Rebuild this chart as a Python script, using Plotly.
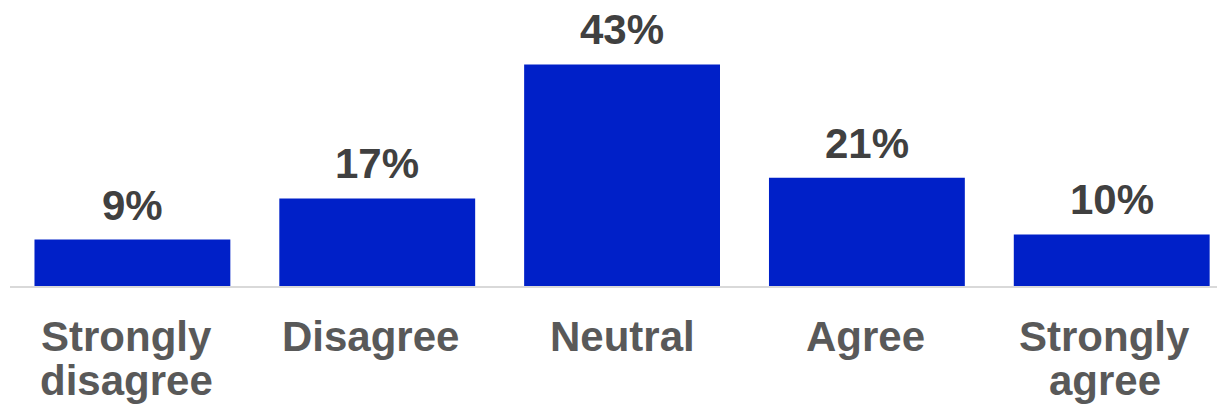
import plotly.graph_objects as go

categories = ["Strongly<br>disagree", "Disagree", "Neutral", "Agree", "Strongly<br>agree"]
values = [9, 17, 43, 21, 10]
value_labels = ["9%", "17%", "43%", "21%", "10%"]

BAR_COLOR = "#0020C8"
FONT = "Liberation Sans, Arial, sans-serif"
# small horizontal nudges of the category labels, as in the original layout
LABEL_NUDGE = {"Strongly<br>disagree": -6, "Disagree": -7, "Neutral": 0, "Agree": -1, "Strongly<br>agree": -7}

x = list(range(len(categories)))

fig = go.Figure(go.Bar(
    x=x, y=values, marker=dict(color=BAR_COLOR, line=dict(width=0)),
    hoverinfo="skip",
))

annotations = []
for xi, v, lab in zip(x, values, value_labels):
    annotations.append(dict(
        x=xi, y=v, xref="x", yref="y", text="<b>%s</b>" % lab, showarrow=False,
        yanchor="bottom", yshift=9,
        font=dict(family=FONT, size=42, color="#404040"),
    ))
for xi, cat in zip(x, categories):
    for i, line in enumerate(cat.split("<br>")):
        annotations.append(dict(
            x=xi, y=0, xref="x", yref="paper", text="<b>%s</b>" % line, showarrow=False,
            yanchor="top", yshift=-25 - 44 * i, xshift=LABEL_NUDGE[cat],
            font=dict(family=FONT, size=42, color="#595959"),
        ))

fig.update_layout(
    width=1217, height=409,
    margin=dict(l=10, r=0, t=0, b=123),
    paper_bgcolor="white", plot_bgcolor="white",
    bargap=0.2, showlegend=False,
    annotations=annotations,
    xaxis=dict(range=[-0.5, 4.43], showticklabels=False, ticks="", showgrid=False,
               zeroline=False, showline=True, linecolor="#D9D9D9", linewidth=2),
    yaxis=dict(range=[0, 55.5], visible=False, showgrid=False, zeroline=False),
)

fig.write_html("out.html")
